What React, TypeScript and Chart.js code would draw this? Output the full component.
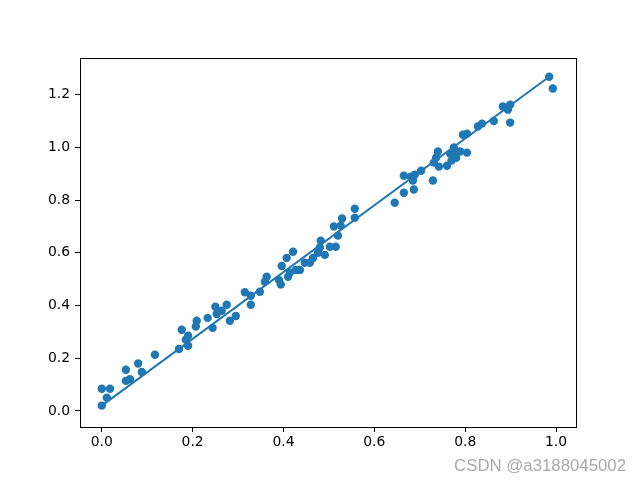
import React, { useEffect, useRef } from "react";
import { Chart, registerables } from "chart.js";

Chart.register(...registerables);

const pointX = [
  0.0, 0.0, 0.018, 0.011, 0.053, 0.053, 0.062, 0.08, 0.088, 0.117,
  0.17, 0.176, 0.185, 0.19, 0.19, 0.207, 0.209, 0.233, 0.244, 0.25,
  0.253, 0.264, 0.275, 0.282, 0.295, 0.315, 0.328, 0.328, 0.348, 0.359,
  0.363, 0.39, 0.394, 0.396, 0.407, 0.414, 0.41, 0.421, 0.427, 0.436,
  0.447, 0.458, 0.465, 0.476, 0.48, 0.482, 0.491, 0.502, 0.511, 0.515,
  0.52, 0.526, 0.529, 0.557, 0.557, 0.645, 0.665, 0.665, 0.68, 0.685,
  0.689, 0.687, 0.703, 0.729, 0.731, 0.736, 0.74, 0.742, 0.76, 0.767,
  0.77, 0.777, 0.775, 0.78, 0.789, 0.795, 0.804, 0.804, 0.828, 0.837,
  0.863, 0.883, 0.899, 0.899, 0.894, 0.985, 0.993,
];
const pointY = [
  0.02, 0.084, 0.084, 0.05, 0.156, 0.114, 0.12, 0.18, 0.148, 0.213,
  0.235, 0.308, 0.27, 0.247, 0.285, 0.32, 0.342, 0.353, 0.315, 0.395,
  0.368, 0.38, 0.403, 0.342, 0.36, 0.45, 0.403, 0.437, 0.452, 0.49,
  0.509, 0.497, 0.48, 0.55, 0.58, 0.524, 0.509, 0.604, 0.535, 0.535,
  0.562, 0.562, 0.58, 0.6, 0.62, 0.646, 0.592, 0.623, 0.7, 0.623,
  0.665, 0.703, 0.73, 0.733, 0.767, 0.79, 0.828, 0.892, 0.889, 0.874,
  0.896, 0.84, 0.911, 0.874, 0.942, 0.961, 0.984, 0.927, 0.93, 0.976,
  0.95, 0.972, 1.0, 0.96, 0.984, 1.048, 1.052, 0.98, 1.079, 1.09,
  1.1, 1.155, 1.162, 1.094, 1.143, 1.268, 1.223,
];
const lineX = [0.0, 0.985];
const lineY = [0.02, 1.268];
const xTicks = [0.0, 0.2, 0.4, 0.6, 0.8, 1.0];
const yTicks = [0.0, 0.2, 0.4, 0.6, 0.8, 1.0, 1.2];
const watermark = "CSDN @a3188045002";

const BLUE = "#1f77b4";

export default function App() {
  const ref = useRef<HTMLCanvasElement | null>(null);
  useEffect(() => {
    if (!ref.current) return;
    const frame = {
      id: "frame",
      afterDraw(chart: any) {
        const { ctx, chartArea: a } = chart;
        ctx.save();
        ctx.strokeStyle = "#000";
        ctx.lineWidth = 1;
        ctx.strokeRect(Math.round(a.left) + 0.5, Math.round(a.top) + 0.5, Math.round(a.right - a.left), Math.round(a.bottom - a.top));
        ctx.font = "16.8px 'Liberation Sans', Arial, sans-serif";
        ctx.fillStyle = "#aaaaaa";
        ctx.textAlign = "right";
        ctx.textBaseline = "alphabetic";
        ctx.fillText(watermark, 626, 471);
        ctx.restore();
      },
    };
    const font = { family: "'DejaVu Sans', sans-serif", size: 13.9 };
    const chart = new Chart(ref.current, {
      type: "scatter",
      data: {
        datasets: [
          {
            type: "line",
            data: lineX.map((x, i) => ({ x, y: lineY[i] })),
            borderColor: BLUE,
            borderWidth: 2,
            pointRadius: 0,
            fill: false,
          } as any,
          {
            data: pointX.map((x, i) => ({ x, y: pointY[i] })),
            backgroundColor: BLUE,
            borderColor: BLUE,
            borderWidth: 0,
            pointRadius: 4.2,
          },
        ],
      },
      options: {
        animation: false,
        responsive: false,
        events: [],
        layout: { padding: { left: 0, right: 64, top: 58, bottom: 0 } },
        plugins: { legend: { display: false }, tooltip: { enabled: false } },
        scales: {
          x: {
            type: "linear",
            min: -0.048,
            max: 1.044,
            afterBuildTicks: (axis: any) => {
              axis.ticks = xTicks.map((v) => ({ value: v }));
            },
            afterFit: (axis: any) => {
              axis.height = 53;
            },
            ticks: {
              color: "#000",
              font,
              padding: 2,
              maxRotation: 0,
              autoSkip: false,
              callback: (v: any) => Number(v).toFixed(1),
            },
            grid: { drawOnChartArea: false, drawTicks: true, tickLength: 5, tickColor: "#000" },
            border: { display: true, color: "#000" },
          },
          y: {
            type: "linear",
            min: -0.061,
            max: 1.339,
            afterBuildTicks: (axis: any) => {
              axis.ticks = yTicks.map((v) => ({ value: v }));
            },
            afterFit: (axis: any) => {
              axis.width = 80;
            },
            ticks: {
              color: "#000",
              font,
              padding: 5,
              autoSkip: false,
              callback: (v: any) => Number(v).toFixed(1),
            },
            grid: { drawOnChartArea: false, drawTicks: true, tickLength: 5, tickColor: "#000" },
            border: { display: true, color: "#000" },
          },
        },
      },
      plugins: [frame],
    });
    return () => chart.destroy();
  }, []);
  return (
    <div style={{ position: "fixed", left: 0, top: 0, width: 640, height: 480, background: "#fff" }}>
      <canvas ref={ref} width={640} height={480} style={{ width: 640, height: 480 }} />
    </div>
  );
}
